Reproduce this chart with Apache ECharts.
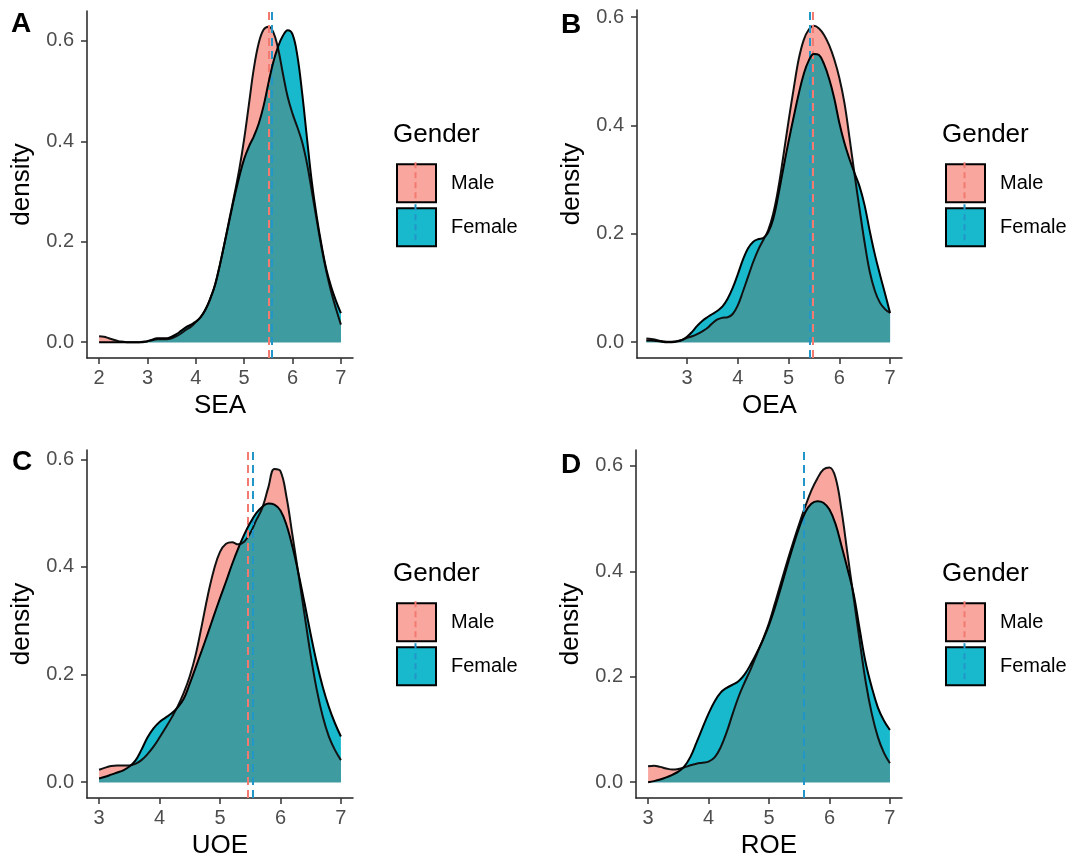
<!DOCTYPE html>
<html><head><meta charset="utf-8">
<script src="https://cdn.jsdelivr.net/npm/echarts@6/dist/echarts.min.js"></script>
<style>html,body{margin:0;padding:0;background:#fff}#c{width:1073px;height:861px}</style>
</head><body><div id="c"></div>
<script>
// ---------- data ----------
const groups = ['Male', 'Female'];
const legendTitle = 'Gender';
const panelLetters = ['A', 'B', 'C', 'D'];
const axisTitles = ['SEA', 'OEA', 'UOE', 'ROE'];
const yTitle = 'density';
const yTicks = [0, 0.2, 0.4, 0.6];
const xTicksA = [2, 3, 4, 5, 6, 7];
const xTicksB = [3, 4, 5, 6, 7];
const xTicksC = [3, 4, 5, 6, 7];
const xTicksD = [3, 4, 5, 6, 7];

// Panel A (SEA), x = 2.0 .. 7.0 step 0.1
const xA = [2.0,2.1,2.2,2.3,2.4,2.5,2.6,2.7,2.8,2.9,3.0,3.1,3.2,3.3,3.4,3.5,3.6,3.7,3.8,3.9,4.0,4.1,4.2,4.3,4.4,4.5,4.6,4.7,4.8,4.9,5.0,5.1,5.2,5.3,5.4,5.5,5.6,5.7,5.8,5.9,6.0,6.1,6.2,6.3,6.4,6.5,6.6,6.7,6.8,6.9,7.0];
const maleA = [0.012,0.011,0.008,0.005,0.002,0.001,0.0,0.0,0.0,0.001,0.002,0.004,0.006,0.006,0.006,0.008,0.012,0.018,0.025,0.031,0.04,0.05,0.065,0.087,0.115,0.155,0.20,0.248,0.295,0.345,0.405,0.475,0.545,0.595,0.622,0.628,0.618,0.585,0.535,0.488,0.455,0.428,0.398,0.355,0.30,0.243,0.188,0.14,0.10,0.066,0.035];
const femaleA = [0,0,0,0,0,0,0,0,0,0,0.002,0.005,0.008,0.008,0.008,0.011,0.016,0.023,0.03,0.035,0.041,0.05,0.065,0.087,0.115,0.155,0.20,0.245,0.29,0.33,0.365,0.39,0.41,0.435,0.47,0.515,0.557,0.588,0.61,0.621,0.613,0.57,0.495,0.405,0.318,0.25,0.193,0.145,0.11,0.082,0.058];

// Panel B (OEA), x = 2.2 .. 7.0 step 0.1
const xB = [2.2,2.3,2.4,2.5,2.6,2.7,2.8,2.9,3.0,3.1,3.2,3.3,3.4,3.5,3.6,3.7,3.8,3.9,4.0,4.1,4.2,4.3,4.4,4.5,4.6,4.7,4.8,4.9,5.0,5.1,5.2,5.3,5.4,5.5,5.6,5.7,5.8,5.9,6.0,6.1,6.2,6.3,6.4,6.5,6.6,6.7,6.8,6.9,7.0];
const maleB = [0.007,0.006,0.004,0.002,0.001,0.001,0.002,0.004,0.008,0.011,0.015,0.02,0.026,0.035,0.042,0.045,0.046,0.052,0.068,0.093,0.12,0.147,0.17,0.188,0.207,0.238,0.285,0.345,0.408,0.467,0.522,0.558,0.577,0.584,0.579,0.567,0.548,0.522,0.488,0.442,0.378,0.31,0.245,0.183,0.13,0.095,0.073,0.061,0.054];
const femaleB = [0.003,0.003,0.002,0.001,0.0,0.0,0.001,0.004,0.01,0.019,0.03,0.039,0.046,0.052,0.058,0.066,0.08,0.10,0.125,0.152,0.173,0.185,0.19,0.192,0.203,0.228,0.272,0.322,0.37,0.415,0.458,0.495,0.52,0.532,0.53,0.513,0.486,0.45,0.405,0.368,0.338,0.312,0.287,0.252,0.205,0.162,0.125,0.09,0.054];

// Panel C (UOE), x = 3.0 .. 7.0 step 0.1
const xC = [3.0,3.1,3.2,3.3,3.4,3.5,3.6,3.7,3.8,3.9,4.0,4.1,4.2,4.3,4.4,4.5,4.6,4.7,4.8,4.9,5.0,5.1,5.2,5.3,5.4,5.5,5.6,5.7,5.8,5.9,6.0,6.1,6.2,6.3,6.4,6.5,6.6,6.7,6.8,6.9,7.0];
const maleC = [0.023,0.027,0.03,0.031,0.031,0.031,0.034,0.041,0.052,0.066,0.083,0.101,0.12,0.141,0.166,0.197,0.238,0.292,0.348,0.395,0.428,0.443,0.446,0.442,0.447,0.463,0.487,0.51,0.548,0.582,0.578,0.53,0.458,0.385,0.31,0.236,0.172,0.122,0.085,0.06,0.041];
const femaleC = [0.007,0.01,0.014,0.018,0.022,0.029,0.04,0.06,0.083,0.10,0.112,0.12,0.128,0.139,0.155,0.183,0.214,0.245,0.277,0.31,0.342,0.373,0.405,0.434,0.46,0.482,0.50,0.512,0.518,0.516,0.505,0.478,0.437,0.387,0.332,0.275,0.222,0.177,0.14,0.11,0.085];

// Panel D (ROE), x = 3.0 .. 7.0 step 0.1
const xD = [3.0,3.1,3.2,3.3,3.4,3.5,3.6,3.7,3.8,3.9,4.0,4.1,4.2,4.3,4.4,4.5,4.6,4.7,4.8,4.9,5.0,5.1,5.2,5.3,5.4,5.5,5.6,5.7,5.8,5.9,6.0,6.1,6.2,6.3,6.4,6.5,6.6,6.7,6.8,6.9,7.0];
const maleD = [0.03,0.031,0.029,0.026,0.024,0.025,0.028,0.032,0.035,0.037,0.039,0.047,0.066,0.095,0.13,0.163,0.19,0.215,0.243,0.271,0.302,0.34,0.379,0.418,0.455,0.49,0.523,0.553,0.576,0.593,0.597,0.578,0.515,0.432,0.35,0.268,0.19,0.13,0.086,0.056,0.036];
const femaleD = [0.0,0.002,0.005,0.009,0.014,0.02,0.03,0.048,0.075,0.103,0.13,0.153,0.17,0.179,0.185,0.192,0.205,0.224,0.246,0.27,0.298,0.332,0.37,0.41,0.448,0.483,0.512,0.528,0.533,0.53,0.517,0.49,0.448,0.404,0.357,0.29,0.226,0.18,0.142,0.117,0.099];

const meanMale = [5.51, 5.48, 5.46, 5.565];
const meanFemale = [5.58, 5.41, 5.54, 5.58];

// ---------- build ----------
const panelsX = [xA, xB, xC, xD];
const panelsMale = [maleA, maleB, maleC, maleD];
const panelsFemale = [femaleA, femaleB, femaleC, femaleD];
const panelsTicks = [xTicksA, xTicksB, xTicksC, xTicksD];

const FONT = 'Liberation Sans, Arial, Helvetica, sans-serif';
const col = {
  maleFill: '#F9A69F', femaleFill: '#18B9CC', overlap: '#3E9CA1',
  maleMean: '#F27A70', femaleMean: '#2296C8', axis: '#222', tick: '#333', tickLabel: '#4D4D4D'
};
const layout = [
  {left: 87,  top: 11,  width: 266, height: 347, xMin: 1.75,  xMax: 7.25,  yMin: -0.0314, yMax: 0.6594, legX: 396, legY: 163.3, letterX: 11,  letterY: 10},
  {left: 637, top: 10,  width: 265, height: 348, xMin: 2.015, xMax: 7.235, yMin: -0.0292, yMax: 0.613,  legX: 945, legY: 163.3, letterX: 561, letterY: 11},
  {left: 87,  top: 450, width: 266, height: 348, xMin: 2.8,   xMax: 7.2,   yMin: -0.0294, yMax: 0.6174, legX: 396, legY: 602.3, letterX: 12,  letterY: 448},
  {left: 636, top: 450, width: 266, height: 348, xMin: 2.8,   xMax: 7.2,   yMin: -0.03,   yMax: 0.63,   legX: 945, legY: 602.3, letterX: 561, letterY: 451}
];

const grids = [], xAxes = [], yAxes = [], series = [], titles = [], legends = [], graphics = [];

layout.forEach((L, i) => {
  const xs = panelsX[i], m = panelsMale[i], f = panelsFemale[i];
  grids.push({left: L.left, top: L.top, width: L.width, height: L.height, containLabel: false});
  xAxes.push({
    type: 'value', gridIndex: i, min: L.xMin, max: L.xMax,
    name: axisTitles[i], nameLocation: 'middle', nameGap: 35,
    nameTextStyle: {fontSize: 26, color: '#000', fontFamily: FONT},
    axisLine: {show: true, onZero: false, lineStyle: {color: col.axis, width: 1.5}},
    axisTick: {show: true, length: 6, lineStyle: {color: col.tick, width: 1.5}, customValues: panelsTicks[i]},
    axisLabel: {customValues: panelsTicks[i], fontSize: 20, color: col.tickLabel, margin: 10, fontFamily: FONT,
      formatter: v => String(Math.round(v))},
    splitLine: {show: false}
  });
  yAxes.push({
    type: 'value', gridIndex: i, min: L.yMin, max: L.yMax,
    name: yTitle, nameLocation: 'middle', nameGap: 52,
    nameTextStyle: {fontSize: 26, color: '#000', fontFamily: FONT},
    axisLine: {show: true, onZero: false, lineStyle: {color: col.axis, width: 1.5}},
    axisTick: {show: true, length: 6, lineStyle: {color: col.tick, width: 1.5}, customValues: yTicks},
    axisLabel: {customValues: yTicks, fontSize: 20, color: col.tickLabel, margin: 13, fontFamily: FONT,
      formatter: v => v.toFixed(1)},
    splitLine: {show: false}
  });
  const base = {type: 'line', xAxisIndex: i, yAxisIndex: i, smooth: 0.4,
    showSymbol: false, symbol: 'none', silent: true, animation: false};
  series.push(Object.assign({}, base, {name: groups[0], z: 1, data: xs.map((v, j) => [v, m[j]]),
    itemStyle: {color: col.maleFill}, lineStyle: {width: 0}, areaStyle: {color: col.maleFill, opacity: 1}}));
  series.push(Object.assign({}, base, {name: groups[1], z: 2, data: xs.map((v, j) => [v, f[j]]),
    itemStyle: {color: col.femaleFill}, lineStyle: {width: 0}, areaStyle: {color: col.femaleFill, opacity: 1}}));
  series.push(Object.assign({}, base, {name: 'overlap' + i, z: 3, data: xs.map((v, j) => [v, Math.min(m[j], f[j])]),
    itemStyle: {color: col.overlap}, lineStyle: {width: 0}, areaStyle: {color: col.overlap, opacity: 1}}));
  series.push(Object.assign({}, base, {name: 'maleLine' + i, z: 4, data: xs.map((v, j) => [v, m[j]]),
    itemStyle: {color: '#000'}, lineStyle: {color: '#111', width: 2},
    markLine: {symbol: ['none', 'none'], silent: true, animation: false, label: {show: false},
      lineStyle: {type: [8, 5], width: 2, color: col.maleMean}, data: [{xAxis: meanMale[i]}]}}));
  series.push(Object.assign({}, base, {name: 'femaleLine' + i, z: 5, data: xs.map((v, j) => [v, f[j]]),
    itemStyle: {color: '#000'}, lineStyle: {color: '#000', width: 2},
    markLine: {symbol: ['none', 'none'], silent: true, animation: false, label: {show: false},
      lineStyle: {type: [8, 5], width: 2, color: col.femaleMean}, data: [{xAxis: meanFemale[i]}]}}));

  titles.push({text: panelLetters[i], left: L.letterX, top: L.letterY, padding: 0,
    textStyle: {fontSize: 28, fontWeight: 'bold', color: '#000', fontFamily: FONT}});
  titles.push({text: legendTitle, left: L.legX - 3, top: L.legY - 41, padding: 0,
    textStyle: {fontSize: 26, fontWeight: 'normal', color: '#000', fontFamily: FONT}});

  legends.push({
    left: L.legX, top: L.legY, orient: 'vertical', padding: 0, itemGap: 4,
    itemWidth: 39, itemHeight: 38, icon: 'rect', selectedMode: false,
    textStyle: {fontSize: 20, color: '#000', fontFamily: FONT, padding: [0, 0, 0, 10]},
    data: [
      {name: groups[0], itemStyle: {color: col.maleFill, borderColor: '#000', borderWidth: 2}},
      {name: groups[1], itemStyle: {color: col.femaleFill, borderColor: '#000', borderWidth: 2}}
    ]
  });
  const cx = L.legX + 19.5;
  graphics.push({type: 'line', z: 100, silent: true,
    shape: {x1: cx, y1: L.legY - 1, x2: cx, y2: L.legY + 39},
    style: {stroke: col.maleMean, lineWidth: 2, lineDash: [6, 4]}});
  graphics.push({type: 'line', z: 100, silent: true,
    shape: {x1: cx, y1: L.legY + 41, x2: cx, y2: L.legY + 81},
    style: {stroke: col.femaleMean, lineWidth: 2, lineDash: [6, 4]}});
});

const chart = echarts.init(document.getElementById('c'), null, {renderer: 'canvas'});
chart.setOption({
  animation: false,
  backgroundColor: '#fff',
  textStyle: {fontFamily: FONT},
  title: titles,
  legend: legends,
  grid: grids,
  xAxis: xAxes,
  yAxis: yAxes,
  series: series,
  graphic: graphics
});
</script></body></html>
